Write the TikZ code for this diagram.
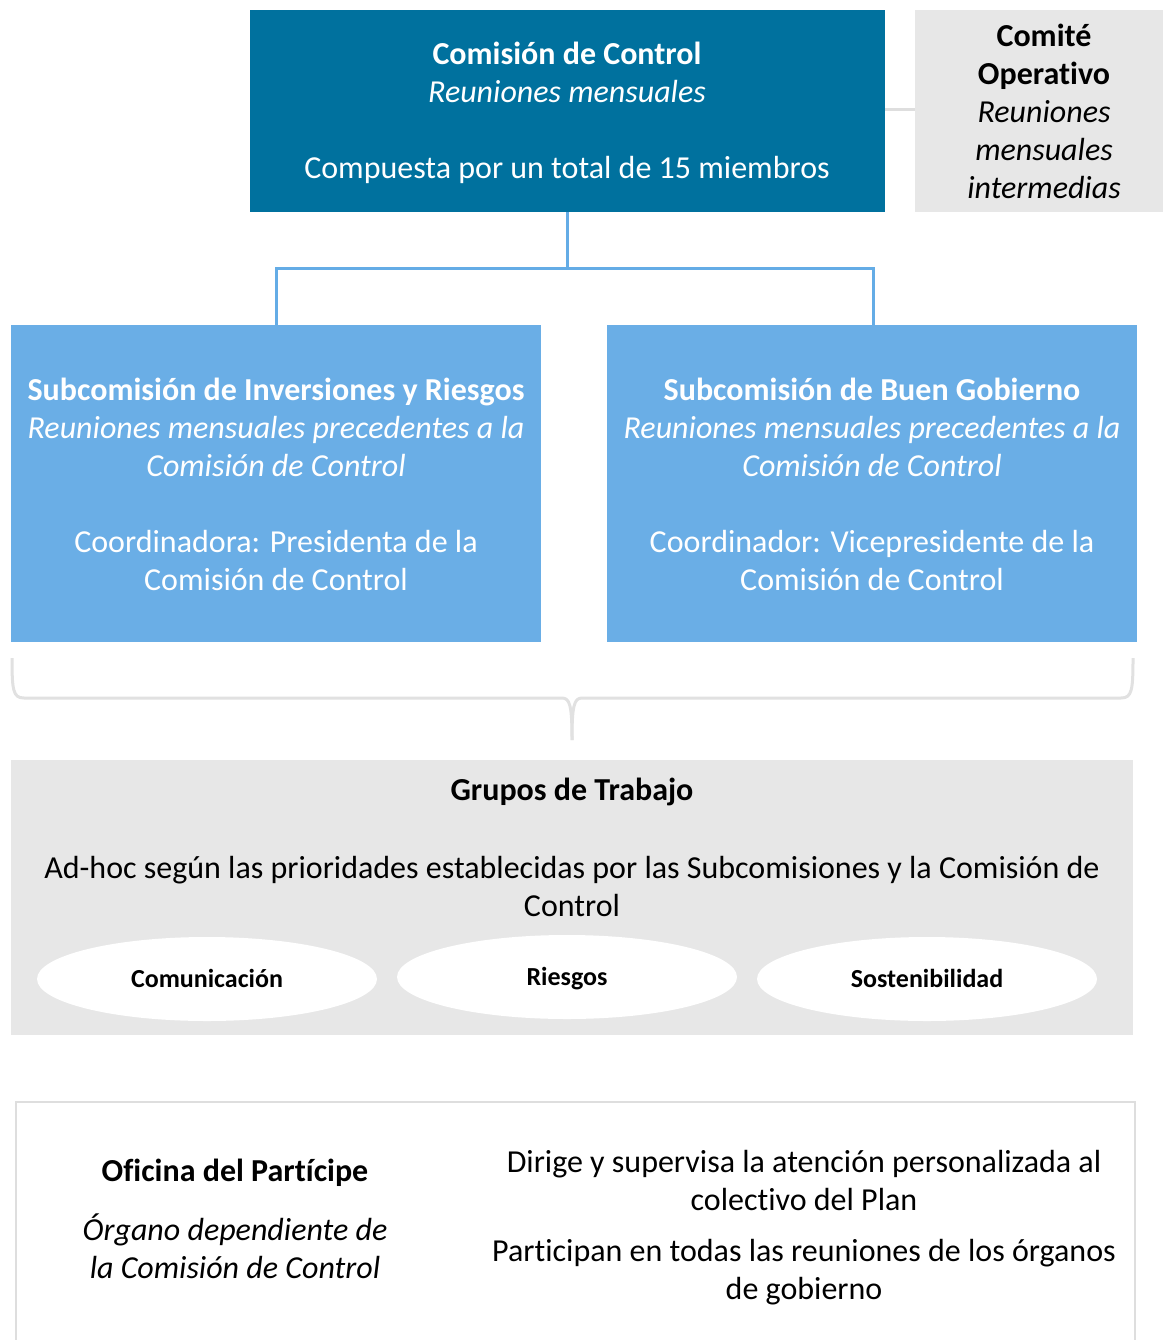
\documentclass[tikz,border=0pt]{standalone}
\usepackage{fontspec}
\setmainfont{Carlito}[Ligatures=NoCommon, Contextuals=NoAlternate]
\usetikzlibrary{shapes.geometric}
\newcommand{\nl}{\kern0pt }
\definecolor{darkblue}{RGB}{0,113,158}
\definecolor{lightblue}{RGB}{106,174,230}
\definecolor{linkblue}{RGB}{100,172,230}
\definecolor{boxgray}{RGB}{231,231,231}
\definecolor{bracegray}{RGB}{225,225,225}
\definecolor{edgegray}{RGB}{222,222,222}
\tikzset{
  big/.style={font=\fontsize{32}{38}\selectfont},
  small/.style={font=\fontsize{26}{30}\selectfont\bfseries},
  txt/.style={big, align=center, inner sep=0pt},
  oval/.style={ellipse, fill=white, minimum width=340, minimum height=84, inner sep=0pt, small, text height=19, text depth=2},
}
\begin{document}
\begin{tikzpicture}[x=1pt,y=-1pt]
\useasboundingbox (0,0) rectangle (1164,1340);
% boxes
\fill[darkblue] (250,10) rectangle (885,212);
\node[coordinate] (cc) at (567,212) {};
\fill[boxgray] (915,10) rectangle (1163,212);
\fill[lightblue] (11,325) rectangle (541,642);
\fill[lightblue] (607,325) rectangle (1137,642);
\fill[boxgray] (11,760) rectangle (1133,1035);
\draw[edgegray, line width=2, fill=white] (16,1345) -- (16,1102) -- (1135,1102) -- (1135,1345);

% texts
\node[txt, text=white] (cctxt) at (567,113) {\textbf{Comisión de Control}\\ \textit{Reuniones mensuales}\\[38pt] Compuesta por un total de 15 miembros};
\node[txt] (co) at (1044,111) {\textbf{Comité}\\ \textbf{Operat\nl ivo}\\ \textit{Reuniones}\\ \textit{mensuales}\\ \textit{intermedias}};
\node[txt, text=white] (s1) at (276,484) {\textbf{Subcomisión de Inversiones y Riesgos}\\ \textit{Reuniones mensuales precedentes a la}\\ \textit{Comisión de Control}\\[38pt] Coordinadora: Presidenta de la\\ Comisión de Control};
\node[txt, text=white] (s2) at (872,484) {\textbf{Subcomisión de Buen Gobierno}\\ \textit{Reuniones mensuales precedentes a la}\\ \textit{Comisión de Control}\\[38pt] Coordinador: Vicepresidente de la\\ Comisión de Control};
\node[txt] (gt) at (572,792) {\textbf{Grupos de Trabajo}};
\node[txt] (gtd) at (572,886) {Ad-hoc según las prioridades establecidas por las Subcomisiones y la Comisión de\\ Control};
\node[oval] (e1) at (207,979) {Comunicación};
\node[oval] (e2) at (567,977) {Riesgos};
\node[oval] (e3) at (927,979) {Sostenibilidad};
\node[txt] (of) at (235,1173) {\textbf{Oficina del Part\nl ícipe}};
\node[txt] (ofd) at (235,1246) {\textit{Órgano dependiente de}\\ \textit{la Comisión de Control}};
\node[txt] (d1) at (804,1180) {Dirige y supervisa la atención personalizada al\\ colectivo del Plan};
\node[txt] (d2) at (804,1272) {Part\nl icipan en todas las reuniones de los órganos\\ de gobierno};

% connectors
\node[coordinate] (ccr) at (885,110) {};
\node[coordinate] (col) at (915,110) {};
\draw[edgegray, line width=3] (ccr) -- (col);
\node[coordinate] (s1t) at (276,325) {};
\node[coordinate] (s2t) at (873,325) {};
\draw[linkblue, line width=3] (cc) -- (567,268) -| (s1t);
\draw[linkblue, line width=3] (567,268) -| (s2t);
% brace
\node[coordinate] (tip) at (572,740) {};
\draw[bracegray, line width=3, line join=round]
  (12,658) .. controls (12,690) and (13,698) .. (24,698) -- (562,698)
  .. controls (570,698) and (572,706) .. (tip);
\draw[bracegray, line width=3, line join=round]
  (1133,658) .. controls (1133,690) and (1132,698) .. (1121,698) -- (582,698)
  .. controls (574,698) and (572,706) .. (tip);
\end{tikzpicture}
\end{document}
